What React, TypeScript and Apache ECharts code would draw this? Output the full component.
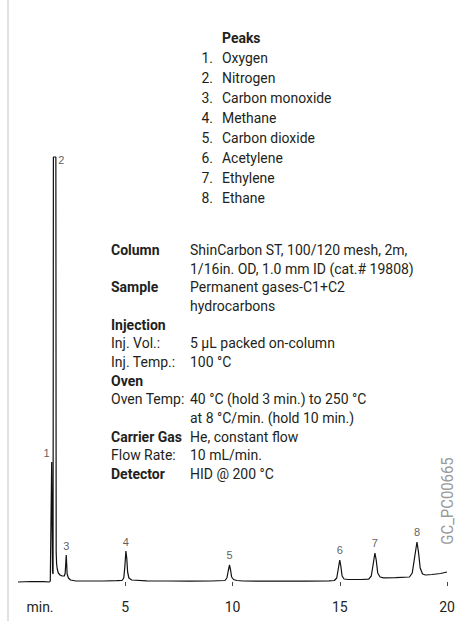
import React, { useEffect, useRef } from "react";
import * as echarts from "echarts";

// Chromatogram trace: [retention time (min), detector signal (arbitrary units)]
const trace: [number, number][] = [
  [0, 0], [0.6, 0.5], [1.2, 0.3], [1.47, 0],
  [1.505, 1], [1.57, 120], [1.61, 10], [1.635, 8],
  [1.65, 425], [1.765, 425], [1.78, 30], [1.8, 18], [1.83, 13], [1.88, 9],
  [1.96, 7], [2.06, 6], [2.16, 6], [2.2, 9], [2.25, 27], [2.29, 8], [2.35, 4],
  [2.45, 2], [2.7, 1], [3.2, 1], [4.0, 1], [4.6, 1.3],
  [4.85, 1.5], [4.93, 4], [4.98, 15], [5.03, 31], [5.07, 24], [5.11, 10], [5.17, 4], [5.3, 2],
  [6, 1.2], [7, 1], [8, 0.8], [9, 1],
  [9.65, 1.5], [9.74, 4], [9.8, 11], [9.86, 17], [9.91, 12], [9.96, 5], [10.05, 2.5], [10.2, 1.5],
  [10.5, 1], [12, 0.8], [13.5, 0.8], [14.5, 1.2],
  [14.75, 1.5], [14.86, 4], [14.93, 13], [15.0, 22], [15.05, 16], [15.11, 6], [15.2, 3], [15.4, 2.5],
  [16.0, 2.5], [16.35, 2.8],
  [16.47, 6], [16.56, 18], [16.64, 29], [16.7, 22], [16.77, 9], [16.88, 5], [17.05, 4.2],
  [17.6, 4.3], [18.25, 5],
  [18.38, 9], [18.5, 26], [18.6, 40], [18.67, 30], [18.75, 14], [18.86, 8], [19.0, 7],
  [19.3, 7.5], [19.7, 8.5], [20, 10],
];

// Peak apexes (time, height) and their numbers
const peakIds = ["1", "2", "3", "4", "5", "6", "7", "8"];
const peakTimes = [1.57, 1.71, 2.25, 5.03, 9.86, 15.0, 16.64, 18.6];
const peakHeights = [120, 425, 27, 31, 17, 22, 29, 40];

const peakNames = [
  "Oxygen",
  "Nitrogen",
  "Carbon monoxide",
  "Methane",
  "Carbon dioxide",
  "Acetylene",
  "Ethylene",
  "Ethane",
];

const xTickValues = [5, 10, 15, 20];

const conditionLabels = [
  "Column", "", "Sample", "", "Injection", "Inj. Vol.:", "Inj. Temp.:",
  "Oven", "Oven Temp:", "", "Carrier Gas", "Flow Rate:", "Detector",
];
const conditionBold = [true, false, true, false, true, false, false, true, false, false, true, false, true];
const conditionValues = [
  "ShinCarbon ST, 100/120 mesh, 2m,",
  "1/16in. OD, 1.0 mm ID (cat.# 19808)",
  "Permanent gases-C1+C2",
  "hydrocarbons",
  "",
  "5 µL packed on-column",
  "100 °C",
  "",
  "40 °C (hold 3 min.) to 250 °C",
  "at 8 °C/min. (hold 10 min.)",
  "He, constant flow",
  "10 mL/min.",
  "HID @ 200 °C",
];

const FONT = "Roboto, 'Noto Sans', sans-serif";
const TEXT_COLOR = "#231f20";
const SX = 0.93;
const LABEL_FONT = "'Liberation Sans', Arial, sans-serif";
const LABEL_COLOR = "#333333";

export default function App() {
  const ref = useRef<HTMLDivElement>(null);

  useEffect(() => {
    if (!ref.current) return;
    const chart = echarts.init(ref.current, undefined, { renderer: "svg" });

    const graphics: any[] = [];
    // left border line
    graphics.push({
      type: "line",
      shape: { x1: 8, y1: 0, x2: 8, y2: 621 },
      style: { stroke: "#c4c4c4", lineWidth: 1 },
    });
    // Peaks header
    graphics.push({
      type: "text",
      x: 222,
      y: 38,
      scaleX: SX,
      style: {
        text: "Peaks",
        fontFamily: FONT,
        fontSize: 15,
        fontWeight: "bold",
        fill: TEXT_COLOR,
        textVerticalAlign: "middle",
      },
    });
    peakNames.forEach((name, i) => {
      const y = 58 + i * 20;
      graphics.push({
        type: "text",
        x: 213,
        y,
        scaleX: SX,
        style: {
          text: `${i + 1}.`,
          fontFamily: FONT,
          fontSize: 15,
          fill: TEXT_COLOR,
          textAlign: "right",
          textVerticalAlign: "middle",
        },
      });
      graphics.push({
        type: "text",
        x: 222,
        y,
        scaleX: SX,
        style: {
          text: name,
          fontFamily: FONT,
          fontSize: 15,
          fill: TEXT_COLOR,
          textVerticalAlign: "middle",
        },
      });
    });
    conditionLabels.forEach((label, i) => {
      const y = 250 + i * 18.67;
      if (label) {
        graphics.push({
          type: "text",
          x: 111,
          y,
          style: {
            text: label,
            fontFamily: FONT,
            fontSize: 14,
            fontWeight: conditionBold[i] ? "bold" : "normal",
            fill: TEXT_COLOR,
            textVerticalAlign: "middle",
          },
        });
      }
      if (conditionValues[i]) {
        graphics.push({
          type: "text",
          x: 190,
          y,
          style: {
            text: conditionValues[i],
            fontFamily: FONT,
            fontSize: 14,
            fill: TEXT_COLOR,
            textVerticalAlign: "middle",
          },
        });
      }
    });
    // "min." axis label
    graphics.push({
      type: "text",
      x: 40,
      y: 607,
      style: {
        text: "min.",
        fontFamily: FONT,
        fontSize: 14,
        fill: TEXT_COLOR,
        textAlign: "center",
        textVerticalAlign: "middle",
      },
    });
    // figure code
    graphics.push({
      type: "text",
      x: 448,
      y: 501,
      rotation: Math.PI / 2,
      scaleX: SX,
      style: {
        text: "GC_PC00665",
        fontFamily: FONT,
        fontSize: 16,
        fill: "#9a9a9a",
        textAlign: "center",
        textVerticalAlign: "middle",
      },
    });

    const baseLabel = {
      show: true,
      fontFamily: LABEL_FONT,
      fontSize: 11,
      color: LABEL_COLOR,
      formatter: (p: any) => p.name,
    };
    const labelData = peakIds.map((id, i) => {
      const item: any = { value: [peakTimes[i], peakHeights[i]], name: id };
      if (id === "1") {
        item.label = { ...baseLabel, position: "top", offset: [-5, 0], distance: 3 };
      } else if (id === "2") {
        item.label = { ...baseLabel, position: "right", offset: [1, 3], distance: 2 };
      } else if (id === "3" || id === "4") {
        item.label = { ...baseLabel, position: "top", distance: 3 };
      } else {
        item.label = { ...baseLabel, position: "top", distance: 4 };
      }
      return item;
    });

    chart.setOption({
      animation: false,
      grid: { left: 18, right: 13, top: 157, bottom: 39, containLabel: false },
      xAxis: {
        type: "value",
        min: 0,
        max: 20,
        interval: 5,
        offset: 4,
        axisLine: { show: false },
        splitLine: { show: false },
        axisTick: {
          show: true,
          length: 4,
          customValues: xTickValues,
          lineStyle: { color: "#444", width: 1 },
        },
        axisLabel: {
          customValues: xTickValues,
          fontFamily: FONT,
          fontSize: 14,
          color: TEXT_COLOR,
          margin: 14,
        },
      },
      yAxis: {
        type: "value",
        min: 0,
        max: 425,
        show: false,
        splitLine: { show: false },
      },
      series: [
        {
          type: "line",
          data: trace,
          showSymbol: false,
          symbol: "none",
          clip: false,
          lineStyle: { color: "#111", width: 1.2 },
        },
        {
          type: "scatter",
          data: labelData,
          symbolSize: 1,
          itemStyle: { color: "rgba(0,0,0,0)" },
          label: baseLabel,
          silent: true,
        },
      ],
      graphic: graphics,
    });

    return () => chart.dispose();
  }, []);

  return (
    <div
      style={{ position: "fixed", left: 0, top: 0, width: 460, height: 621, background: "#fff" }}
    >
      <div ref={ref} style={{ width: 460, height: 621 }} />
    </div>
  );
}
